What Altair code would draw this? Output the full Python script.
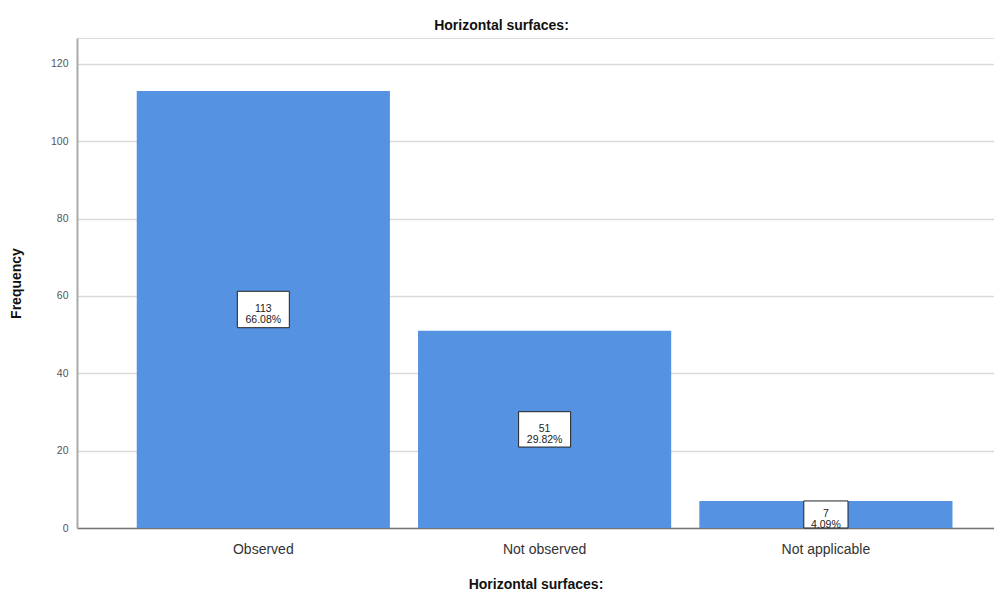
import altair as alt
import pandas as pd

categories = ["Observed", "Not observed", "Not applicable"]
counts = [113, 51, 7]
percents = ["66.08%", "29.82%", "4.09%"]

df = pd.DataFrame({"cat": categories, "count": counts, "pct": percents})
df["label"] = df["count"].astype(str) + "\n" + df["pct"]
df["mid"] = df["count"] / 2

box_paths = [
    "M-1,-0.7L1,-0.7L1,0.7L-1,0.7Z",
    "M-1,-0.68L1,-0.68L1,0.68L-1,0.68Z",
    "M-0.85,-0.52L0.85,-0.52L0.85,0.52L-0.85,0.52Z",
]

x_enc = alt.X(
    "cat:N",
    sort=categories,
    scale=alt.Scale(paddingInner=0.1, paddingOuter=0.18, align=0.59),
    axis=alt.Axis(
        title="Horizontal surfaces:",
        labelAngle=0,
        labelFontSize=14,
        labelColor="#333333",
        labelFont="Liberation Sans",
        labelPadding=14,
        ticks=False,
        domainColor="#777777",
        domainWidth=1.5,
        titleFont="Liberation Sans",
        titleFontSize=14,
        titleFontWeight="bold",
        titleColor="#111111",
        titlePadding=21,
    ),
)

bars = alt.Chart(df).mark_bar(color="#5592E2").encode(
    x=x_enc,
    y=alt.Y(
        "count:Q",
        scale=alt.Scale(domain=[0, 126.7], nice=False),
        axis=alt.Axis(
            title="Frequency",
            values=[0, 20, 40, 60, 80, 100, 120],
            ticks=False,
            labelFontSize=10.5,
            labelColor="#555555",
            labelFont="Liberation Sans",
            labelPadding=9,
            gridColor="#d9d9d9",
            gridWidth=1.5,
            domainColor="#aaaaaa",
            domainWidth=2,
            titleFont="Liberation Sans",
            titleFontSize=14,
            titleFontWeight="bold",
            titleColor="#111111",
            titlePadding=27,
        ),
    ),
)

boxes = alt.Chart(df).mark_point(
    filled=True, fill="white", stroke="#222222", strokeWidth=1, opacity=1, size=2704
).encode(
    x=alt.X("cat:N", sort=categories),
    y=alt.Y("mid:Q"),
    shape=alt.Shape("cat:N", scale=alt.Scale(domain=categories, range=box_paths), legend=None),
)

texts = alt.Chart(df).mark_text(
    fontSize=10.5, color="#222222", font="Liberation Sans", lineBreak="\n", baseline="middle", lineHeight=11
).encode(
    x=alt.X("cat:N", sort=categories),
    y=alt.Y("mid:Q"),
    text="label:N",
)

chart = (
    alt.layer(bars, boxes, texts)
    .properties(
        width=917,
        height=490,
        autosize=alt.AutoSizeParams(type="none"),
        padding={"left": 69, "top": 30, "right": 0, "bottom": 70},
        title=alt.TitleParams(
            "Horizontal surfaces:",
            font="Liberation Sans",
            fontSize=14,
            fontWeight="bold",
            color="#111111",
            anchor="middle",
            dx=-34,
            offset=5,
        ),
    )
    .configure_view(stroke=None)
    .configure(background="white")
)

chart.save("out.html", embed_options={"renderer": "svg", "actions": False})
